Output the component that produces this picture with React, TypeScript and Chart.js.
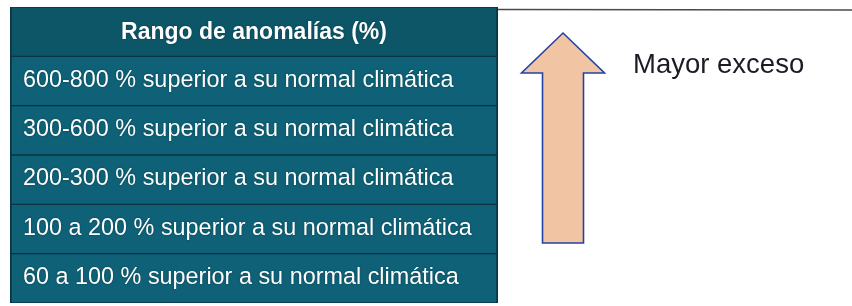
import React, { useEffect, useRef } from "react";
import { Chart, registerables } from "chart.js";

Chart.register(...registerables);

// ---- data ----
const headerLabel = "Rango de anomalías (%)";
const rangeLabels = [
  "600-800 % superior a su normal climática",
  "300-600 % superior a su normal climática",
  "200-300 % superior a su normal climática",
  "100 a 200 % superior a su normal climática",
  "60 a 100 % superior a su normal climática",
];
const rowValues = [1, 1, 1, 1, 1, 1]; // every row spans the full table width
const arrowLabel = "Mayor exceso";

const FONT = "'Liberation Sans', Arial, sans-serif";

export default function App() {
  const ref = useRef<HTMLCanvasElement | null>(null);

  useEffect(() => {
    if (!ref.current) return;
    const labels = [headerLabel, ...rangeLabels];

    const tablePlugin = {
      id: "tableText",
      afterDatasetsDraw(chart: any) {
        const ctx = chart.ctx;
        const meta = chart.getDatasetMeta(0);
        const area = chart.chartArea;
        meta.data.forEach((bar: any, i: number) => {
          const y = bar.y;
          ctx.save();
          ctx.fillStyle = "#ffffff";
          ctx.shadowColor = "rgba(0,30,40,0.6)";
          ctx.shadowBlur = 1.5;
          ctx.textBaseline = "alphabetic";
          if (i === 0) {
            ctx.font = `bold 23px ${FONT}`;
            ctx.textAlign = "center";
            ctx.fillText(labels[i], (area.left + area.right) / 2, y + 7.5);
          } else {
            // slightly condensed, taller lettering as in the reference
            const sx = 0.955;
            ctx.font = `24.5px ${FONT}`;
            ctx.textAlign = "left";
            ctx.translate(area.left + 13, y + 5.5);
            ctx.scale(sx, 1);
            ctx.fillText(labels[i], 0, 0);
          }
          ctx.restore();
        });
      },
      afterDraw(chart: any) {
        const ctx = chart.ctx;
        const area = chart.chartArea;
        const W = chart.width;
        ctx.save();
        // top rule of the right panel
        ctx.strokeStyle = "#4a4a4a";
        ctx.lineWidth = 1.5;
        ctx.beginPath();
        ctx.moveTo(area.right, area.top + 2.5);
        ctx.lineTo(W, area.top + 3);
        ctx.stroke();

        // arrow
        const cx = area.right + 65;
        const tipY = area.top + 26;
        const headY = area.top + 66;
        const bottomY = area.top + 236;
        const headHalf = 41.5;
        const shaftHalf = 20.5;
        ctx.fillStyle = "#f1c4a3";
        ctx.strokeStyle = "#2343a3";
        ctx.lineWidth = 1.6;
        ctx.lineJoin = "miter";
        ctx.beginPath();
        ctx.moveTo(cx, tipY);
        ctx.lineTo(cx + headHalf, headY);
        ctx.lineTo(cx + shaftHalf, headY);
        ctx.lineTo(cx + shaftHalf, bottomY);
        ctx.lineTo(cx - shaftHalf, bottomY);
        ctx.lineTo(cx - shaftHalf, headY);
        ctx.lineTo(cx - headHalf, headY);
        ctx.closePath();
        ctx.fill();
        ctx.stroke();

        // arrow caption
        ctx.fillStyle = "#1b1b26";
        ctx.font = `27.5px ${FONT}`;
        ctx.textAlign = "left";
        ctx.textBaseline = "alphabetic";
        ctx.fillText(arrowLabel, area.right + 135, area.top + 66);
        ctx.restore();
      },
    };

    const chart = new Chart(ref.current, {
      type: "bar",
      data: {
        labels,
        datasets: [
          {
            data: rowValues,
            backgroundColor: rowValues.map((_, i) => (i === 0 ? "#0c5667" : "#0e6176")),
            borderColor: "#0a3440",
            borderWidth: { top: 1, bottom: 1, left: 2, right: 2 },
            borderSkipped: false,
            barPercentage: 1,
            categoryPercentage: 1,
          },
        ],
      },
      options: {
        indexAxis: "y",
        responsive: false,
        animation: false,
        layout: { padding: { left: 10, right: 354, top: 7, bottom: 3 } },
        scales: {
          x: { type: "linear", min: 0, max: 1, display: false },
          y: { display: false },
        },
        plugins: {
          legend: { display: false },
          tooltip: { enabled: false },
        },
      },
      plugins: [tablePlugin],
    });
    return () => chart.destroy();
  }, []);

  return (
    <div
      style={{
        position: "fixed",
        left: 0,
        top: 0,
        width: 852,
        height: 306,
        background: "#ffffff",
      }}
    >
      <canvas ref={ref} width={852} height={306} />
    </div>
  );
}
